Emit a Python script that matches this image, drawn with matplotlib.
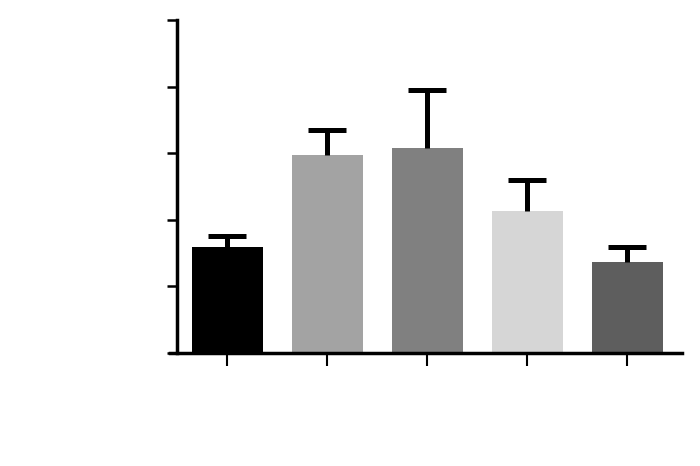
import matplotlib
matplotlib.use("Agg")
import matplotlib.pyplot as plt

groups = ["A", "B", "C", "D", "E"]
means = [1.59, 2.97, 3.08, 2.13, 1.37]
errors = [0.17, 0.38, 0.87, 0.47, 0.22]
colors = ["#000000", "#a3a3a3", "#808080", "#d6d6d6", "#5e5e5e"]
yticks = [0, 1, 2, 3, 4, 5]

W, H = 700, 466
fig = plt.figure(figsize=(W / 100, H / 100), dpi=100)
left_px, right_px, top_px, bottom_px = 170, 682, 20, 353
ax = fig.add_axes([left_px / W, 1 - bottom_px / H,
                   (right_px - left_px) / W, (bottom_px - top_px) / H])

x = list(range(len(groups)))
ax.bar(x, means, width=0.71, color=colors, zorder=2)
eb = ax.errorbar(x, means, yerr=[[0] * len(errors), errors], fmt="none",
                 ecolor="black", elinewidth=3.6, capsize=13.5, capthick=3.6, zorder=3)
# hide the lower caps (only upper error shown)
caps = eb[1]
if len(caps) == 2:
    caps[0].set_visible(False)

ax.set_xlim(-0.57, 4.55)
ax.set_ylim(0, 5)
ax.set_yticks(yticks)
ax.set_xticks(x)
ax.set_xticklabels([])
ax.set_yticklabels([])

for s in ["top", "right"]:
    ax.spines[s].set_visible(False)
ax.spines["left"].set_position(("axes", 7 / (right_px - left_px)))
ax.spines["left"].set_linewidth(2.5)
ax.spines["bottom"].set_linewidth(2.5)
ax.tick_params(axis="y", direction="out", length=7, width=1.8, color="black")
ax.tick_params(axis="x", direction="out", length=9, width=1.5, color="black")

fig.savefig("out.png", dpi=100)
